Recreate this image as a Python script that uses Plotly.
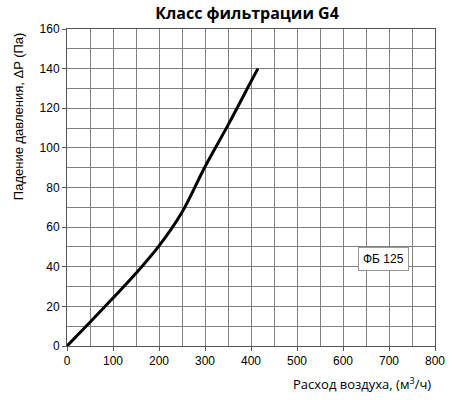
import plotly.graph_objects as go

flow = [0, 50, 100, 150, 200, 250, 300, 350, 400, 415]
pressure = [0, 12, 24.2, 36.7, 50.5, 67.5, 90.5, 111.5, 133.5, 140]

x_ticks = [0, 100, 200, 300, 400, 500, 600, 700, 800]
y_ticks = [0, 20, 40, 60, 80, 100, 120, 140, 160]

fig = go.Figure()
fig.add_trace(go.Scatter(
    x=flow, y=pressure, mode="lines",
    line=dict(color="black", width=3, shape="spline", smoothing=1.0),
    showlegend=False, hoverinfo="skip",
))

fig.update_xaxes(
    range=[0, 800], tickvals=x_ticks, ticks="outside", ticklen=4, tickcolor="#555",
    showgrid=True, gridcolor="#808080", gridwidth=1,
    minor=dict(dtick=50, showgrid=True, gridcolor="#808080", gridwidth=1, ticks=""),
    showline=True, linecolor="#555", linewidth=1, mirror=True,
    zeroline=False, tickfont=dict(family="Liberation Sans, Arial", size=12, color="black"),
    fixedrange=True,
)
fig.update_yaxes(
    range=[0, 160], tickvals=y_ticks, ticks="outside", ticklen=4, tickcolor="#555",
    showgrid=True, gridcolor="#808080", gridwidth=1,
    minor=dict(dtick=10, showgrid=True, gridcolor="#808080", gridwidth=1, ticks=""),
    showline=True, linecolor="#555", linewidth=1, mirror=True,
    zeroline=False, tickfont=dict(family="Liberation Sans, Arial", size=12, color="black"),
    fixedrange=True,
)

fig.update_layout(
    width=457, height=400,
    margin=dict(l=67, r=20, t=29, b=54),
    paper_bgcolor="white", plot_bgcolor="white",
    title=dict(text="<b>Класс фильтрации G4</b>", x=247/457, xanchor="center",
               y=1 - 13/400, yanchor="middle",
               font=dict(family="Open Sans", size=16, color="black")),
    annotations=[
        dict(text="Расход воздуха, (м<sup>3</sup>/ч)", xref="paper", yref="paper",
             x=0.995, y=-0.117, xanchor="right", yanchor="middle", showarrow=False,
             font=dict(family="Open Sans", size=13, color="black")),
        dict(text="Падение давления, ΔP (Па)", xref="paper", yref="paper",
             x=-0.13, y=0.7256, xanchor="center", yanchor="middle", textangle=-90,
             showarrow=False,
             font=dict(family="Liberation Sans, Arial", size=13, color="black")),
        dict(text="ФБ 125", x=688, y=44, xref="x", yref="y", showarrow=False,
             bgcolor="white", bordercolor="#999", borderwidth=1, borderpad=4,
             font=dict(family="Liberation Sans, Arial", size=12, color="black")),
    ],
)

# remove the browser's default 8px page margin so the figure fills the window
fig.write_html("out.html", config={"displayModeBar": False},
               post_script="document.body.style.margin='0';")
